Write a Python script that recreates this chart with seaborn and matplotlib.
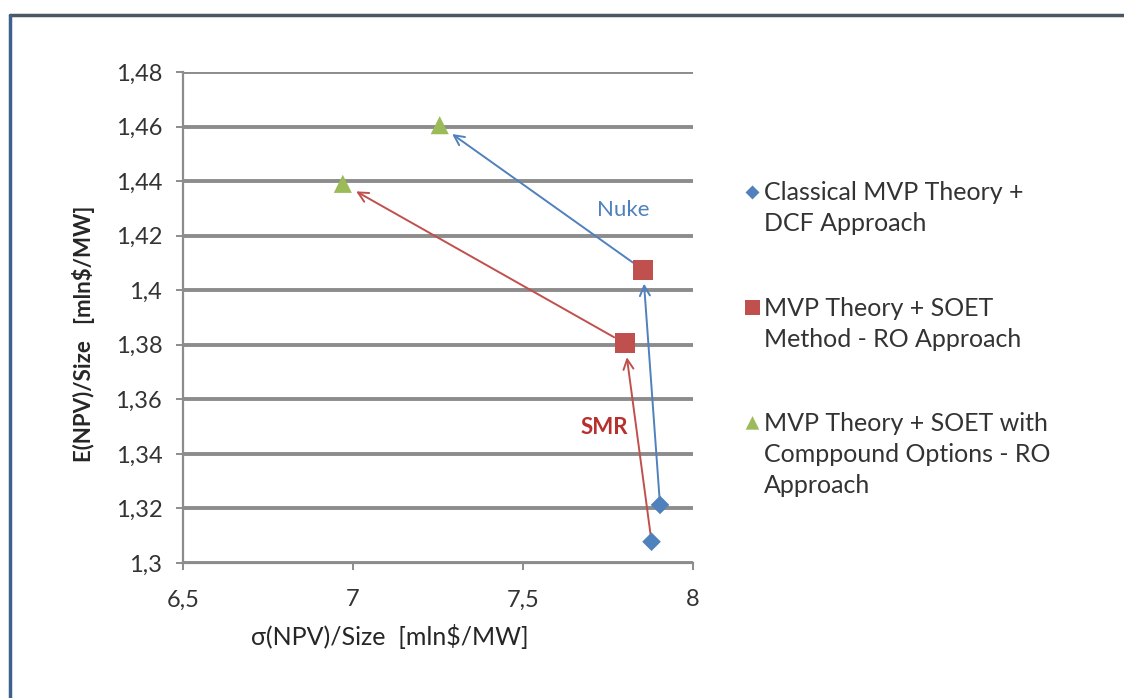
import matplotlib
matplotlib.use("Agg")
import matplotlib.pyplot as plt
from matplotlib.lines import Line2D
import seaborn as sns
import pandas as pd

# ---- data ----
series_names = [
    "Classical MVP Theory +\nDCF Approach",
    "MVP Theory + SOET\nMethod - RO Approach",
    "MVP Theory + SOET with\nComppound Options - RO\nApproach",
]
# [Nuke, SMR] for each series
dcf_x = [7.903, 7.878]
dcf_y = [1.3213, 1.3078]
soet_x = [7.853, 7.800]
soet_y = [1.4075, 1.3805]
comp_x = [7.255, 6.970]
comp_y = [1.4605, 1.4390]
plant_names = ["Nuke", "SMR"]

x_ticks = [6.5, 7, 7.5, 8]
x_ticklabels = ["6,5", "7", "7,5", "8"]
y_ticks = [1.30, 1.32, 1.34, 1.36, 1.38, 1.40, 1.42, 1.44, 1.46, 1.48]
y_ticklabels = ["1,3", "1,32", "1,34", "1,36", "1,38", "1,4", "1,42", "1,44", "1,46", "1,48"]

x_label = "σ(NPV)/Size  [mln$/MW]"
y_label = "E(NPV)/Size   [mln$/MW]"

df = pd.DataFrame({
    "x": dcf_x + soet_x + comp_x,
    "y": dcf_y + soet_y + comp_y,
    "series": [series_names[0]] * 2 + [series_names[1]] * 2 + [series_names[2]] * 2,
})

# ---- style ----
sns.set_theme(style="white")
plt.rcParams["font.family"] = ["Lato", "DejaVu Sans"]

blue = "#4F81BD"
red = "#C0504D"
green = "#9BBB59"
grid_c = "#8c8c8c"
text_c = "#333333"

fig = plt.figure(figsize=(11.24, 6.98), dpi=100)
ax = fig.add_axes([183 / 1124, 1 - 563 / 698, (693 - 183) / 1124, (563 - 72) / 698])

palette = {series_names[0]: blue, series_names[1]: red, series_names[2]: green}
markers = {series_names[0]: "D", series_names[1]: "s", series_names[2]: "^"}
sizes = {series_names[0]: 90, series_names[1]: 210, series_names[2]: 170}

for name in series_names:
    sub = df[df["series"] == name]
    sns.scatterplot(data=sub, x="x", y="y", color=palette[name], marker=markers[name],
                    s=sizes[name], edgecolor="none", ax=ax, zorder=5, label=name)

# arrows: DCF -> SOET -> compound, for each plant
arrow_cols = [blue, red]
for i, col in enumerate(arrow_cols):
    ax.annotate("", xy=(soet_x[i], soet_y[i]), xytext=(dcf_x[i], dcf_y[i]),
                arrowprops=dict(arrowstyle="->", color=col, lw=1.4, shrinkA=5, shrinkB=10,
                                mutation_scale=18), zorder=4)
    ax.annotate("", xy=(comp_x[i], comp_y[i]), xytext=(soet_x[i], soet_y[i]),
                arrowprops=dict(arrowstyle="->", color=col, lw=1.4, shrinkA=9, shrinkB=11,
                                mutation_scale=18), zorder=4)

ax.text(7.794, 1.4295, plant_names[0], color=blue, fontsize=16, ha="center", va="center")
ax.text(7.74, 1.3495, plant_names[1], color="#B8302E", fontsize=16, fontweight="bold",
        ha="center", va="center")

ax.set_xlim(6.5, 8)
ax.set_ylim(1.30, 1.48)
ax.set_xticks(x_ticks)
ax.set_xticklabels(x_ticklabels)
ax.set_yticks(y_ticks)
ax.set_yticklabels(y_ticklabels)

ax.yaxis.grid(True, color=grid_c, lw=2.8)
ax.xaxis.grid(False)
ax.set_axisbelow(True)
for s in ["top", "right"]:
    ax.spines[s].set_visible(False)
for s in ["left", "bottom"]:
    ax.spines[s].set_color(grid_c)
    ax.spines[s].set_linewidth(1.6)

ax.tick_params(axis="both", which="major", length=5, width=1.4, color=grid_c,
               labelsize=17, labelcolor=text_c, direction="out", left=True, bottom=True)
ax.tick_params(axis="y", pad=10)
ax.tick_params(axis="x", pad=14)

ax.set_xlabel(x_label, fontsize=18, color="#262626")
ax.xaxis.set_label_coords((390 - 183) / 510, -(624 - 563) / 491)
ax.set_ylabel(y_label, fontsize=16, color="#262626", fontweight="bold")
ax.yaxis.set_label_coords(-(183 - 95) / 510, (563 - 334) / 491)

# legend
handles, labels = ax.get_legend_handles_labels()
leg = ax.legend(handles, labels, loc="upper left", bbox_to_anchor=(730 / 1124, 1 - 169 / 698),
                bbox_transform=fig.transFigure, frameon=False, fontsize=18,
                labelspacing=2.45, handletextpad=0.05, handlelength=0.8, borderpad=0,
                markerscale=0.75)
for t in leg.get_texts():
    t.set_color(text_c)
    t.set_linespacing(1.42)
for col in leg._legend_handle_box.get_children():
    for item in col.get_children():
        item.align = "top"

# figure frame (top and left edges visible)
fig.add_artist(Line2D([10 / 1124, 1.0], [1 - 15 / 698, 1 - 15 / 698], transform=fig.transFigure,
                      color="#4b5863", lw=2.5))
fig.add_artist(Line2D([10 / 1124, 10 / 1124], [0.0, 1 - 15 / 698], transform=fig.transFigure,
                      color="#3f5f8f", lw=2.5))

fig.savefig("out.png", dpi=100)
